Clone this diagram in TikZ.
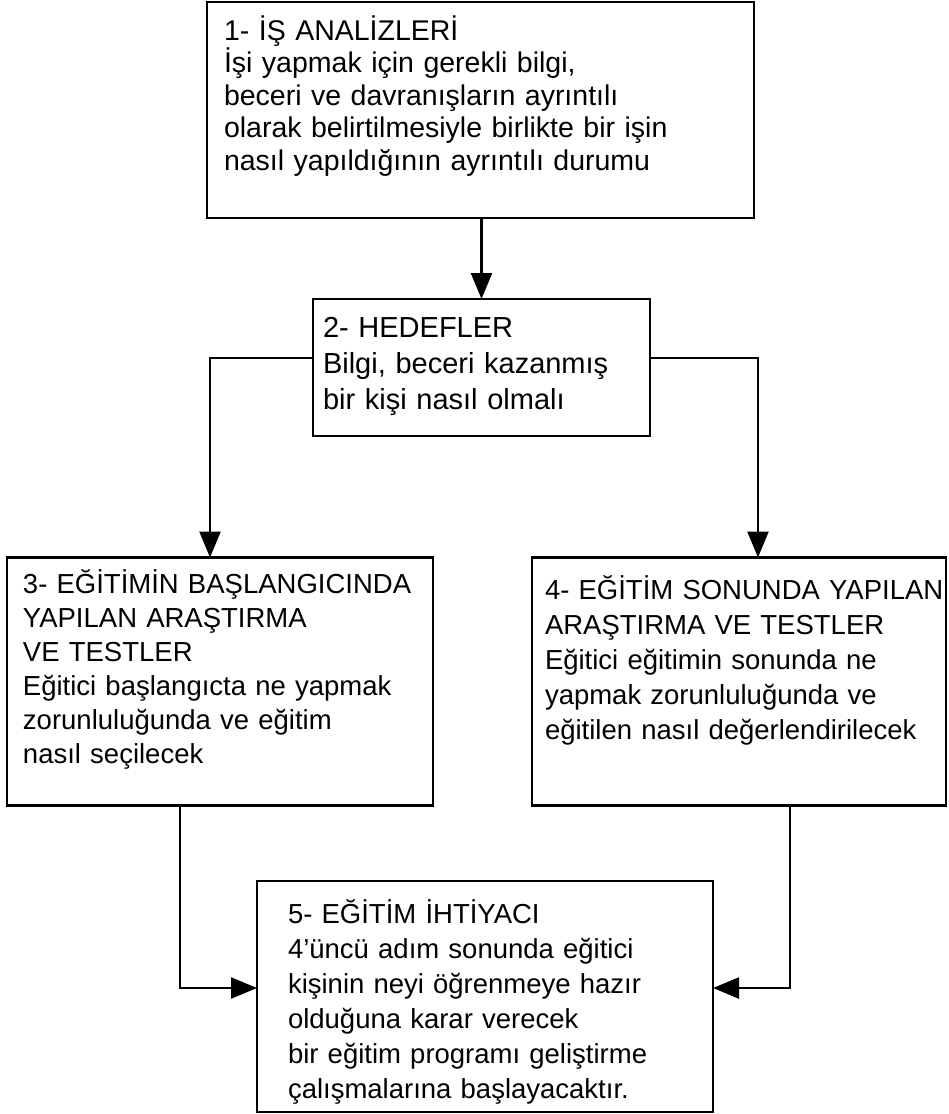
\documentclass[tikz,border=0pt]{standalone}
\usepackage{fontspec}
\setmainfont{Liberation Sans}
\usetikzlibrary{arrows.meta,calc}
\begin{document}
\begin{tikzpicture}[x=1pt,y=-1pt,
  box/.style={draw, line width=2.4pt, rectangle, inner sep=0pt, outer sep=0pt},
  txt/.style={anchor=base west, inner sep=0pt, outer sep=0pt, align=left, text width=#1},
  link/.style={line width=2.4pt},
  arr/.style={link, -{Triangle[length=26pt,width=21pt]}},
]
\useasboundingbox (0,0) rectangle (949,1114);
\fill[white] (0,0) rectangle (949,1114);

% boxes
\node[box, minimum width=547pt, minimum height=216pt] (b1) at (480.5,110) {};
\node[box, minimum width=337pt, minimum height=137pt] (b2) at (481.5,367.5) {};
\node[box, minimum width=426pt, minimum height=248pt] (b3) at (220,681.5) {};
\node[box, minimum width=414pt, minimum height=248pt] (b4) at (739,681.5) {};
\node[box, minimum width=456pt, minimum height=231pt] (b5) at (485,996.5) {};

% box texts
\node[txt=520pt, font=\fontsize{28.5}{32.5}\selectfont] (t1) at ($(b1.north west)+(17,38)$)
  {1- İŞ ANALİZLERİ\\
   İşi yapmak için gerekli bilgi,\\
   beceri ve davranışların ayrıntılı\\
   olarak belirtilmesiyle birlikte bir işin\\
   nasıl yapıldığının ayrıntılı durumu};
\node[txt=320pt, font=\fontsize{29}{36}\selectfont] (t2) at ($(b2.north west)+(10,38)$)
  {2- HEDEFLER\\
   Bilgi, beceri kazanmış\\
   bir kişi nasıl olmalı};
\node[txt=410pt, font=\fontsize{27.5}{34}\selectfont] (t3) at ($(b3.north west)+(16,36)$)
  {3- EĞİTİMİN BAŞLANGICINDA\\
   YAPILAN ARAŞTIRMA\\
   VE TESTLER\\
   Eğitici başlangıcta ne yapmak\\
   zorunluluğunda ve eğitim\\
   nasıl seçilecek};
\node[txt=400pt, font=\fontsize{27.5}{35}\selectfont] (t4) at ($(b4.north west)+(13,42)$)
  {4- EĞİTİM SONUNDA YAPILAN\\
   ARAŞTIRMA VE TESTLER\\
   Eğitici eğitimin sonunda ne\\
   yapmak zorunluluğunda ve\\
   eğitilen nasıl değerlendirilecek};
\node[txt=440pt, font=\fontsize{27.5}{35}\selectfont] (t5) at ($(b5.north west)+(31,42)$)
  {5- EĞİTİM İHTİYACI\\
   4'üncü adım sonunda eğitici\\
   kişinin neyi öğrenmeye hazır\\
   olduğuna karar verecek\\
   bir eğitim programı geliştirme\\
   çalışmalarına başlayacaktır.};

% bends of the connectors
\coordinate (j3) at (210,358);
\coordinate (j4) at (758,358);
\coordinate (k3) at (180,988);
\coordinate (k4) at (790,988);

% connectors
\draw[arr] (b2.north |- b1.south) -- (b2.north);
\draw[arr] (b2.west |- j3) -- (j3) -- (j3 |- b3.north);
\draw[arr] (b2.east |- j4) -- (j4) -- (j4 |- b4.north);
\draw[arr] (k3 |- b3.south) -- (k3) -- (k3 -| b5.west);
\draw[arr] (k4 |- b4.south) -- (k4) -- (k4 -| b5.east);
\end{tikzpicture}
\end{document}
